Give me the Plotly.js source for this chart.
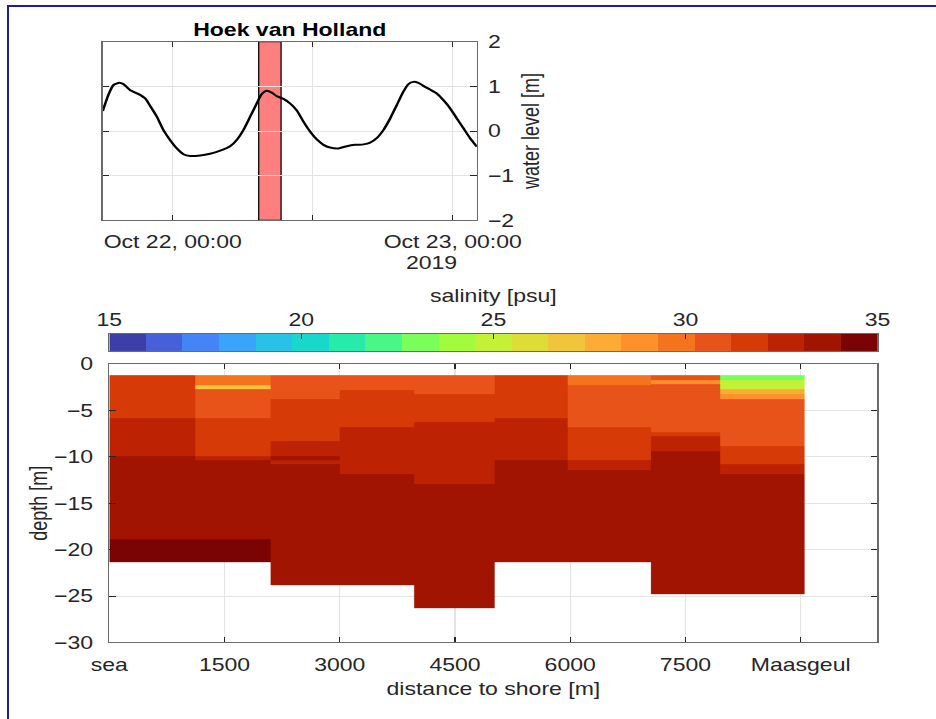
<!DOCTYPE html>
<html>
<head>
<meta charset="utf-8">
<script src="https://cdn.plot.ly/plotly-3.0.1.min.js"></script>
<style>
html,body{margin:0;padding:0;background:#fff;overflow:hidden;width:936px;height:719px;}
#plot{position:absolute;left:0;top:0;width:731px;height:719px;transform:scaleX(1.2804);transform-origin:0 0;}
#frame{position:absolute;left:7px;top:5px;width:935px;height:720px;border-left:2px solid #1c1f9a;border-top:2px solid #1c1f9a;box-sizing:border-box;pointer-events:none;}
</style>
</head>
<body>
<div id="plot"></div>
<div id="frame"></div>
<script>
// ---- water level at Hoek van Holland ----
const tideTimes = [
  '2019-10-21 18:00','2019-10-21 18:29','2019-10-21 18:55','2019-10-21 19:26','2019-10-21 19:46',
  '2019-10-21 20:20','2019-10-21 21:12','2019-10-21 21:38','2019-10-21 22:04','2019-10-21 22:38',
  '2019-10-21 23:12','2019-10-21 23:46','2019-10-22 00:21','2019-10-22 00:55','2019-10-22 01:29',
  '2019-10-22 02:21','2019-10-22 03:12','2019-10-22 04:04','2019-10-22 04:55','2019-10-22 05:29',
  '2019-10-22 06:03','2019-10-22 06:38','2019-10-22 07:12','2019-10-22 07:38','2019-10-22 08:03',
  '2019-10-22 08:29','2019-10-22 08:55','2019-10-22 09:29','2019-10-22 10:03','2019-10-22 10:38',
  '2019-10-22 11:12','2019-10-22 11:46','2019-10-22 12:21','2019-10-22 12:55','2019-10-22 13:29',
  '2019-10-22 14:12','2019-10-22 14:55','2019-10-22 15:38','2019-10-22 16:21','2019-10-22 16:55',
  '2019-10-22 17:29','2019-10-22 18:03','2019-10-22 18:38','2019-10-22 19:12','2019-10-22 19:46',
  '2019-10-22 20:12','2019-10-22 20:38','2019-10-22 21:03','2019-10-22 21:29','2019-10-22 22:03',
  '2019-10-22 22:38','2019-10-22 23:12','2019-10-22 23:46','2019-10-23 00:21','2019-10-23 00:55',
  '2019-10-23 01:29','2019-10-23 02:04'
];
const tideLevels = [
  0.45, 0.81, 1.03, 1.08, 1.05,
  0.92, 0.81, 0.73, 0.56, 0.32,
  0.02, -0.20, -0.39, -0.52, -0.56,
  -0.55, -0.51, -0.44, -0.34, -0.20,
  0.02, 0.32, 0.62, 0.83, 0.90,
  0.86, 0.78, 0.72, 0.62, 0.46,
  0.21, -0.01, -0.19, -0.31, -0.37,
  -0.39, -0.34, -0.31, -0.30, -0.26,
  -0.16, 0.02, 0.28, 0.58, 0.88,
  1.05, 1.10, 1.08, 1.01, 0.93,
  0.84, 0.69, 0.51, 0.28, 0.06,
  -0.16, -0.35
];
const timeRange = ['2019-10-21 18:00', '2019-10-23 02:04'];
const timeTicks = ['2019-10-22 00:00', '2019-10-22 12:00', '2019-10-23 00:00'];
const timeTickLabels = ['Oct 22, 00:00', '', 'Oct 23, 00:00'];
const highlightStart = '2019-10-22 07:22';
const highlightEnd = '2019-10-22 09:17';
const levelTicks = [-2, -1, 0, 1, 2];

// ---- salinity colour scale ----
const salinityMin = 15;
const salinityMax = 35;
const salinityTicks = [15, 20, 25, 30, 35];
const salinityColors = [
  '#3e3fa6','#4660da','#4484f6','#3aa3fa','#27c2e6','#19d8cb','#26ebaa',
  '#48f785','#79fe5a','#a2fc3c','#c4f135','#dedd36','#f1c53a','#fcab35',
  '#fe912a','#f5731d','#e8531a','#d63a07','#bd2203','#a01401','#7a0403'
];

// ---- salinity transect ----
const distanceTicks = [0, 1500, 3000, 4500, 6000, 7500, 9000];
const distanceLabels = ['sea', '1500', '3000', '4500', '6000', '7500', 'Maasgeul'];
const depthTicks = [-30, -25, -20, -15, -10, -5, 0];
const columnEdges = [0, 1110, 2100, 3000, 3960, 5020, 5960, 7050, 7950, 9050];
const layerDepths = [
  [-1.2, -5.8, -9.9, -18.9, -21.3],
  [-1.2, -2.3, -2.7, -5.8, -9.9, -10.4, -18.9, -21.3],
  [-1.2, -3.8, -8.3, -9.9, -10.4, -10.8, -23.8],
  [-1.2, -2.8, -6.8, -11.9, -23.8],
  [-1.2, -3.2, -6.3, -12.9, -26.3],
  [-1.2, -5.8, -10.4, -21.3],
  [-1.2, -2.3, -6.8, -10.4, -11.4, -21.3],
  [-1.2, -1.7, -2.2, -7.3, -7.8, -9.4, -24.8],
  [-1.2, -1.7, -2.7, -3.3, -3.8, -8.9, -10.8, -11.9, -24.8]
];
const layerSalinity = [
  [31.7, 32.6, 33.6, 34.5],
  [29.8, 26.9, 30.7, 31.7, 32.6, 33.6, 34.5],
  [30.7, 31.7, 32.6, 33.6, 32.6, 33.6],
  [30.7, 31.7, 32.6, 33.6],
  [30.7, 31.7, 32.6, 33.6],
  [31.7, 32.6, 33.6],
  [29.8, 30.7, 31.7, 32.6, 33.6],
  [30.7, 28.8, 30.7, 31.7, 32.6, 33.6],
  [23.1, 25.0, 27.9, 28.8, 30.7, 31.7, 32.6, 33.6]
];

// ---- build ----
const nBins = salinityColors.length;
const colorscale = [];
salinityColors.forEach((c, i) => {
  colorscale.push([i / nBins, c]);
  colorscale.push([(i + 1) / nBins, c]);
});
const binEdges = [];
const binCenters = [];
for (let i = 0; i <= nBins; i++) binEdges.push(salinityMin + (salinityMax - salinityMin) * i / nBins);
for (let i = 0; i < nBins; i++) binCenters.push((binEdges[i] + binEdges[i + 1]) / 2);

// common depth grid for one heatmap (null where a column has no data)
const allDepths = Array.from(new Set([].concat(...layerDepths))).sort((a, b) => a - b);
const gridZ = [];
for (let j = 0; j < allDepths.length - 1; j++) {
  const mid = (allDepths[j] + allDepths[j + 1]) / 2;
  const row = [];
  layerDepths.forEach((d, i) => {
    let v = null;
    for (let k = 0; k < d.length - 1; k++) {
      if (mid <= d[k] && mid >= d[k + 1]) { v = layerSalinity[i][k]; break; }
    }
    row.push(v);
  });
  gridZ.push(row);
}

const FONT = 'Liberation Sans, Arial, Helvetica, sans-serif';
const TXT = '#262626';
const AXLINE = '#6b6b6b';
const GRID = '#e3e3e3';

const traces = [
  {
    type: 'scatter', mode: 'lines', x: tideTimes, y: tideLevels,
    xaxis: 'x', yaxis: 'y',
    line: {color: '#000', width: 2, shape: 'spline', smoothing: 0.6},
    hoverinfo: 'x+y'
  },
  {
    type: 'heatmap', x: columnEdges, y: allDepths, z: gridZ,
    xaxis: 'x2', yaxis: 'y2', coloraxis: 'coloraxis', zsmooth: false,
    hoverongaps: false, hovertemplate: 'salinity %{z} psu<extra></extra>'
  },
  {
    type: 'heatmap', x: binEdges, y: [0, 1], z: [binCenters],
    xaxis: 'x3', yaxis: 'y3', coloraxis: 'coloraxis', zsmooth: false,
    hoverinfo: 'skip'
  }
];

const baseAxis = {
  showline: true, linecolor: AXLINE, linewidth: 1, mirror: 'ticks',
  ticks: 'inside', ticklen: 5, tickcolor: TXT, tickwidth: 1,
  showgrid: true, gridcolor: GRID, gridwidth: 1, zeroline: false,
  tickfont: {family: FONT, size: 18, color: TXT},
  fixedrange: true
};

const layout = {
  width: 731, height: 719,
  margin: {l: 0, r: 0, t: 0, b: 0, pad: 0},
  paper_bgcolor: '#fff', plot_bgcolor: '#fff',
  font: {family: FONT, size: 18, color: TXT},
  showlegend: false,
  title: {
    text: '<b>Hoek van Holland</b>', font: {family: FONT, size: 18, color: '#000'},
    xref: 'paper', yref: 'paper', x: 0.3096, xanchor: 'center', y: 0.958, yanchor: 'middle'
  },
  coloraxis: {cmin: salinityMin, cmax: salinityMax, colorscale: colorscale, showscale: false},
  xaxis: Object.assign({}, baseAxis, {
    domain: [0.1098, 0.5095], anchor: 'y', type: 'date', range: timeRange,
    tickmode: 'array', tickvals: timeTicks, ticktext: timeTickLabels, ticklabelstandoff: 5
  }),
  yaxis: Object.assign({}, baseAxis, {
    domain: [0.6936, 0.942], anchor: 'x', side: 'right', range: [-2, 2],
    tickmode: 'array', tickvals: levelTicks, ticklabelstandoff: 4,
    title: {text: 'water level [m]', font: {family: FONT, size: 18, color: TXT}, standoff: 7}
  }),
  xaxis2: Object.assign({}, baseAxis, {
    domain: [0.1168, 0.9375], anchor: 'y2', range: [0, 10000],
    tickmode: 'array', tickvals: distanceTicks, ticktext: distanceLabels, ticklabelstandoff: 6,
    title: {text: 'distance to shore [m]', font: {family: FONT, size: 18, color: TXT}, standoff: 8}
  }),
  yaxis2: Object.assign({}, baseAxis, {
    domain: [0.1064, 0.4937], anchor: 'x2', range: [-30, 0],
    tickmode: 'array', tickvals: depthTicks, ticklabelstandoff: 8,
    title: {text: 'depth [m]', font: {family: FONT, size: 18, color: TXT}, standoff: 0}
  }),
  xaxis3: Object.assign({}, baseAxis, {
    domain: [0.1168, 0.9375], anchor: 'y3', range: [salinityMin, salinityMax], side: 'top',
    tickmode: 'array', tickvals: salinityTicks, showgrid: false, mirror: true, ticklabelstandoff: 0,
    title: {text: 'salinity [psu]', font: {family: FONT, size: 18, color: TXT}, standoff: 2}
  }),
  yaxis3: Object.assign({}, baseAxis, {
    domain: [0.5118, 0.5355], anchor: 'x3', range: [0, 1], showgrid: false,
    showticklabels: false, ticks: '', mirror: true
  }),
  annotations: [{
    text: '2019', xref: 'paper', yref: 'paper', x: 0.4605, y: 0.6349,
    xanchor: 'center', yanchor: 'middle', showarrow: false,
    font: {family: FONT, size: 18, color: TXT}
  }],
  shapes: [{
    type: 'rect', xref: 'x', yref: 'y domain', x0: highlightStart, x1: highlightEnd, y0: 0, y1: 1,
    fillcolor: 'rgba(255,0,0,0.5)', line: {color: '#000', width: 1}, layer: 'below'
  }]
};

Plotly.newPlot('plot', traces, layout, {displayModeBar: false, staticPlot: true});
</script>
</body>
</html>
